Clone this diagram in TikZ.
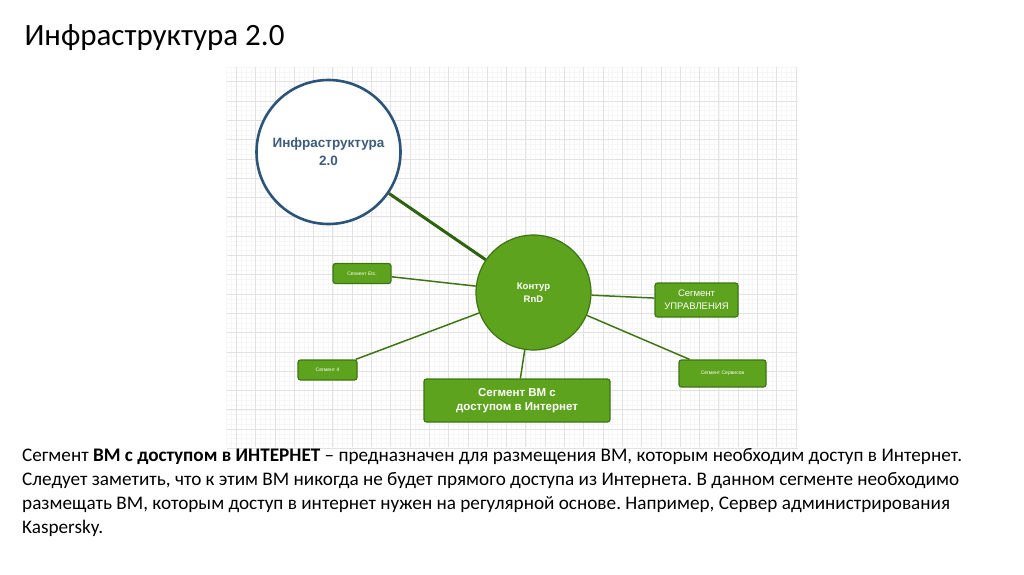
\documentclass[tikz,border=0pt]{standalone}
\usepackage{fontspec}
\setmainfont{Carlito}
\newfontfamily\diafont{Liberation Sans}
\usetikzlibrary{positioning}
\definecolor{segfill}{RGB}{94,163,30}
\definecolor{segline}{RGB}{62,116,20}
\definecolor{linkdark}{RGB}{46,98,14}
\definecolor{infblue}{RGB}{44,84,122}
\definecolor{inftext}{RGB}{62,92,124}
\definecolor{gridmajor}{RGB}{226,226,226}
\definecolor{gridminor}{RGB}{246,246,246}

\begin{document}
\frenchspacing
\begin{tikzpicture}[x=1pt, y=-1pt,
  segbox/.style={draw=segline, fill=segfill, rounded corners=2.5pt, line width=1.2pt,
    text=white, align=center, inner sep=0pt},
  link/.style={segline, line width=1.5pt}]
  \useasboundingbox (0,0) rectangle (1024,574);
  % grid behind the diagram
  \foreach \i in {0,...,118}
    \draw[gridminor, line width=0.5pt] ({226.65+\i*4.825},67) -- ({226.65+\i*4.825},447);
  \foreach \i in {0,...,78}
    \draw[gridminor, line width=0.5pt] (227,{67.2+\i*4.825}) -- (798,{67.2+\i*4.825});
  \foreach \i in {0,...,29}
    \draw[gridmajor, line width=0.8pt] ({236.3+\i*19.3},67) -- ({236.3+\i*19.3},447);
  \foreach \i in {0,...,19}
    \draw[gridmajor, line width=0.8pt] (227,{81.7+\i*19.3}) -- (798,{81.7+\i*19.3});

  \node[anchor=base west, font=\fontsize{31}{36}\selectfont] (title) at (21,45) {Инфраструктура 2.0};

  % circles
  \node[circle, draw=infblue, line width=2.6pt, fill=white, minimum size=144, inner sep=0pt,
    text=inftext, font=\diafont\bfseries\fontsize{13.5}{18}\selectfont, align=center]
    (infra) at (328.5,152) {Инфраструктура\\2.0};
  \node[circle, draw=segline, line width=1.2pt, fill=segfill, minimum size=115, inner sep=0pt,
    text=white, font=\diafont\bfseries\fontsize{9.5}{12.5}\selectfont, align=center]
    (rnd) at (533.5,292.5) {Контур\\RnD};

  % segments
  \node[segbox, minimum width=58, minimum height=20, font=\diafont\fontsize{5}{6}\selectfont]
    (etc) at (362,273.5) {Сегмент Etc.};
  \node[segbox, minimum width=59, minimum height=20, font=\diafont\fontsize{5}{6}\selectfont]
    (seg4) at (327.5,370) {Сегмент 4};
  \node[segbox, minimum width=186, minimum height=43, font=\diafont\bfseries\fontsize{11.5}{14.5}\selectfont]
    (inet) at (517,400.5) {Сегмент ВМ с\\доступом в Интернет};
  \node[segbox, minimum width=83, minimum height=34, font=\diafont\fontsize{9.5}{13}\selectfont]
    (upr) at (696.5,300) {Сегмент\\УПРАВЛЕНИЯ};
  \node[segbox, minimum width=87, minimum height=27, font=\diafont\fontsize{5}{6}\selectfont]
    (serv) at (722.5,373.5) {Сегмент Сервисов};

  \draw[linkdark, line width=3pt] (infra) -- (rnd);
  \draw[link] (etc) -- (rnd);
  \draw[link] (seg4) -- (rnd);
  \draw[link] (inet) -- (rnd);
  \draw[link] (upr) -- (rnd);
  \draw[link] (serv) -- (rnd);

  % description
  \node[anchor=north west, inner sep=0pt, align=left,
    font=\fontsize{19.2}{24}\selectfont] (descr) at (22,448)
    {Сегмент \textbf{ВМ с доступом в ИНТЕРНЕТ} -- предназначен для размещения ВМ, которым необходим доступ в Интернет.\\
     Следует заметить, что к этим ВМ никогда не будет прямого доступа из Интернета. В данном сегменте необходимо\\
     размещать ВМ, которым доступ в интернет нужен на регулярной основе. Например, Сервер администрирования\\
     Kaspersky.};
\end{tikzpicture}
\end{document}
